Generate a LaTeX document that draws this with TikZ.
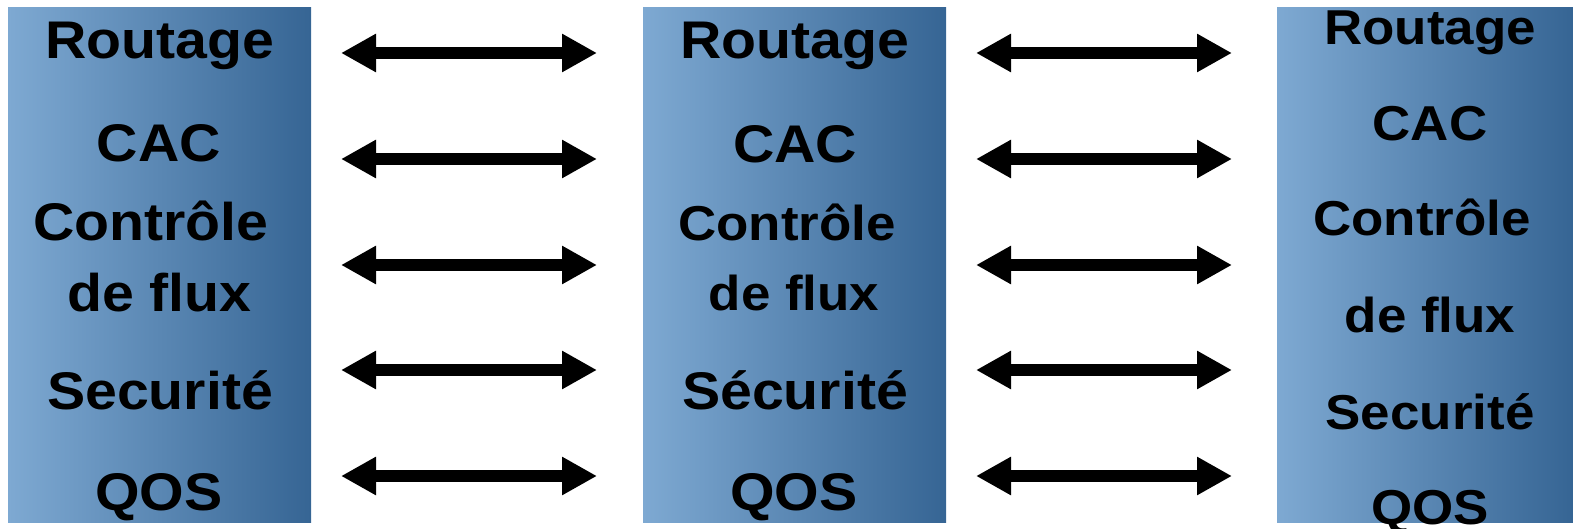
\documentclass[tikz,border=0pt]{standalone}
\usepackage{fontspec}
\setmainfont{Liberation Sans}
\usetikzlibrary{arrows.meta}
\definecolor{layerlight}{RGB}{126,169,210}
\definecolor{layerdark}{RGB}{54,101,148}
\tikzset{
  layerbox/.style={rectangle, inner sep=0pt, draw=none, minimum width=303pt,
    minimum height=514pt, left color=layerlight, right color=layerdark},
  lbl/.style={anchor=base, inner sep=0pt, xscale=1.08, font=\fontsize{53}{60}\selectfont\bfseries},
  lblsm/.style={anchor=base, inner sep=0pt, xscale=1.08, font=\fontsize{49}{56}\selectfont\bfseries},
  dblarrow/.style={line width=12.6pt, {Triangle[length=35pt,width=36pt]}-{Triangle[length=35pt,width=36pt]}}
}
\begin{document}
\begin{tikzpicture}[x=1pt,y=-1pt]
\useasboundingbox (0,0) rectangle (1573,529);

% protocol stacks
\node[layerbox] (stackA) at (159.5,265) {};
\node[layerbox] (stackB) at (794.5,265) {};
\node[layerbox, minimum width=296pt] (stackC) at (1425,265) {};

% first stack
\node[lbl] (a1) at (160,59) {Routage};
\node[lbl] (a2) at (159,162) {CAC};
\node[lbl] (a3) at (151,241) {Contrôle};
\node[lbl] (a4) at (159.5,311) {de flux};
\node[lbl] (a5) at (160,409) {Securité};
\node[lbl] (a6) at (159,510) {QOS};

% second stack
\node[lbl] (b1) at (795,59) {Routage};
\node[lbl] (b2) at (795,163) {CAC};
\node[lblsm] (b3) at (787,241) {Contrôle};
\node[lblsm] (b4) at (794,310) {de flux};
\node[lbl] (b5) at (795,409) {Sécurité};
\node[lbl] (b6) at (794,510) {QOS};

% third stack
\node[lblsm] (c1) at (1430,45) {Routage};
\node[lblsm] (c2) at (1430,141) {CAC};
\node[lblsm] (c3) at (1422,236) {Contrôle};
\node[lblsm] (c4) at (1430,332) {de flux};
\node[lblsm] (c5) at (1430,429) {Securité};
\node[lblsm] (c6) at (1430,524) {QOS};

% peer-to-peer exchanges between the stacks
\foreach \i/\y in {1/53,2/159,3/265,4/370,5/476}{
  \coordinate (pl\i) at (341,\y);
  \coordinate (pr\i) at (597,\y);
  \coordinate (ql\i) at (976,\y);
  \coordinate (qr\i) at (1232,\y);
  \draw[dblarrow] (pl\i) -- (pr\i);
  \draw[dblarrow] (ql\i) -- (qr\i);
}
\end{tikzpicture}
\end{document}
